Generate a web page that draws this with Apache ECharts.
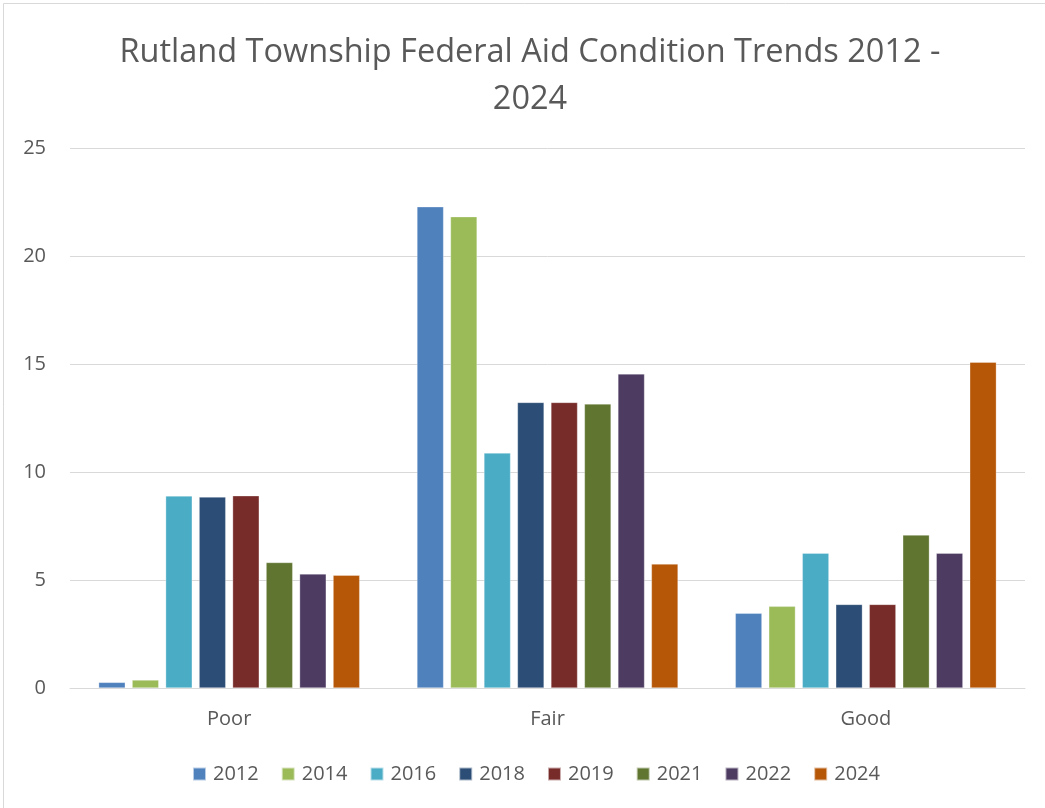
<!DOCTYPE html>
<html>
<head>
<meta charset="utf-8">
<script src="https://cdn.jsdelivr.net/npm/echarts@6/dist/echarts.min.js"></script>
<style>
  html, body { margin: 0; padding: 0; background: #fff; }
  #chart { width: 1045px; height: 808px; }
</style>
</head>
<body>
<div id="chart"></div>
<script>
// Road condition categories and survey years
const categories = ['Poor', 'Fair', 'Good'];
const years = ['2012', '2014', '2016', '2018', '2019', '2021', '2022', '2024'];

// Miles per condition for each survey year (Poor, Fair, Good)
const v2012 = [0.26, 22.28, 3.46];
const v2014 = [0.37, 21.82, 3.78];
const v2016 = [8.89, 10.88, 6.24];
const v2018 = [8.84, 13.22, 3.87];
const v2019 = [8.90, 13.22, 3.87];
const v2021 = [5.81, 13.15, 7.08];
const v2022 = [5.28, 14.54, 6.24];
const v2024 = [5.22, 5.74, 15.08];

const yTicks = [0, 5, 10, 15, 20, 25];

const seriesValues = [v2012, v2014, v2016, v2018, v2019, v2021, v2022, v2024];
const colors = ['#4f81bd', '#9bbb59', '#4bacc6', '#2c4d75', '#772c2a', '#5f7530', '#4d3b62', '#b65708'];

const FONT = '"Open Sans", Lato, sans-serif';
const TEXT = '#595959';

const chart = echarts.init(document.getElementById('chart'), null, { renderer: 'canvas' });

chart.setOption({
  backgroundColor: '#ffffff',
  animation: false,
  color: colors,
  title: {
    text: 'Rutland Township Federal Aid Condition Trends 2012 -\n2024',
    left: 525,
    textAlign: 'center',
    top: 24,
    textStyle: { fontFamily: FONT, fontSize: 32.5, fontWeight: 'normal', color: TEXT, lineHeight: 47 }
  },
  graphic: [{
    type: 'rect',
    shape: { x: 3.5, y: 3.5, width: 1100, height: 1100 },
    style: { fill: 'none', stroke: '#d9d9d9', lineWidth: 1 },
    silent: true
  }],
  legend: {
    data: years,
    top: 759,
    left: 187,
    itemWidth: 13,
    itemHeight: 13,
    itemGap: 22,
    icon: 'rect',
    textStyle: { fontFamily: FONT, fontSize: 20, color: TEXT, padding: [0, 0, 0, 2] }
  },
  grid: { left: 70, right: 20, top: 148, bottom: 120, containLabel: false },
  xAxis: {
    type: 'category',
    data: categories,
    axisLine: { lineStyle: { color: '#d9d9d9', width: 1 } },
    axisTick: { show: false },
    axisLabel: { fontFamily: FONT, fontSize: 20, color: TEXT, margin: 21 }
  },
  yAxis: {
    type: 'value',
    min: yTicks[0],
    max: yTicks[yTicks.length - 1],
    interval: 5,
    axisLine: { show: false },
    axisTick: { show: false },
    splitLine: { lineStyle: { color: '#d9d9d9', width: 1 } },
    axisLabel: { fontFamily: FONT, fontSize: 20, color: TEXT, margin: 24 }
  },
  series: years.map((y, i) => ({
    name: y,
    type: 'bar',
    data: seriesValues[i],
    barGap: '26%',
    barCategoryGap: '18%',
    itemStyle: { color: colors[i], borderColor: 'rgba(255,255,255,0.6)', borderWidth: 0.5 }
  }))
});
</script>
</body>
</html>
